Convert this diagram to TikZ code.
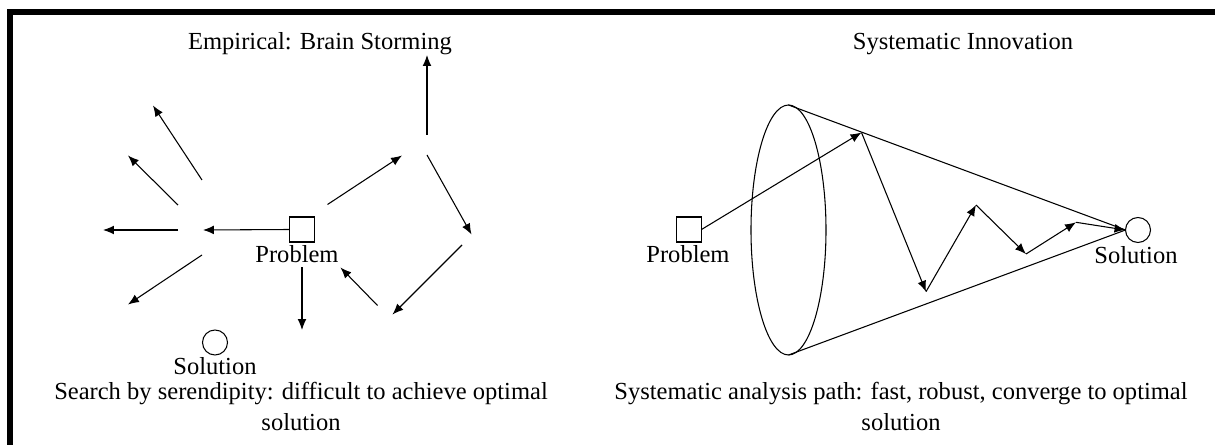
\documentclass[tikz,border=0pt]{standalone}
\usepackage{fontspec}
\setmainfont{Liberation Serif}
\usetikzlibrary{arrows.meta,shapes.geometric}
\begin{document}
\begin{tikzpicture}[x=0.75pt,y=-0.75pt,
  line width=0.8pt,
  arr/.style={-{Latex[length=8.2pt,width=6.6pt]}},
  txt/.style={inner sep=0pt,font=\fontsize{18.4}{23.25}\selectfont},
  sq/.style={draw,rectangle,minimum size=18.75pt,inner sep=0pt,outer sep=0pt},
  ci/.style={draw,circle,minimum size=18.75pt,inner sep=0pt,outer sep=0pt},
  cone/.style={draw,ellipse,minimum width=56.25pt,minimum height=187.5pt,inner sep=0pt,outer sep=0pt}
]
\useasboundingbox (0,0) rectangle (1215,445);
\clip (0,0) rectangle (1215,445);
% frame
\draw[line width=4.5pt] (1230,12) -- (10,12) -- (10,460);

% ---------- left panel ----------
\node[txt,anchor=base] (titleL) at (320,50) {Empirical: Brain Storming};
\node[sq] (probL) at (302,229.5) {};
\node[txt,anchor=base] (probLtxt) at (297,262.7) {Problem};
\node[ci] (solL) at (215,342.5) {};
\node[txt,anchor=base] (solLtxt) at (215,375) {Solution};
\node[txt,anchor=north,align=center] (capL) at (301,382) {Search by serendipity: difficult to achieve optimal\\solution};

\coordinate (l1) at (203,230);
\coordinate (l2) at (178,230);   \coordinate (l3) at (103,230);
\coordinate (l4) at (178,205);   \coordinate (l5) at (128,155.5);
\coordinate (l6) at (202,180);   \coordinate (l7) at (153,105.5);
\coordinate (l8) at (202,255);   \coordinate (l9) at (128,304.5);
\coordinate (l10) at (327.5,204.5); \coordinate (l11) at (402,155.5);
\coordinate (l12) at (427,135);  \coordinate (l13) at (427,55);
\coordinate (l14) at (427,155);  \coordinate (l15) at (471.5,234.5);
\coordinate (l16) at (462,245);  \coordinate (l17) at (392.5,314.5);
\coordinate (l18) at (377.5,305.5); \coordinate (l19) at (340.5,267.5);
\coordinate (l20) at (302,267.5); \coordinate (l21) at (302,330);

\draw[arr] (probL.west) -- (l1);
\draw[arr] (l2) -- (l3);
\draw[arr] (l4) -- (l5);
\draw[arr] (l6) -- (l7);
\draw[arr] (l8) -- (l9);
\draw[arr] (l10) -- (l11);
\draw[arr] (l12) -- (l13);
\draw[arr] (l14) -- (l15);
\draw[arr] (l16) -- (l17);
\draw[arr] (l18) -- (l19);
\draw[arr] (l20) -- (l21);

% ---------- right panel ----------
\node[txt,anchor=base] (titleR) at (963,50) {Systematic Innovation};
\node[sq] (probR) at (689,229.5) {};
\node[txt,anchor=base] (probRtxt) at (688,263) {Problem};
\node[ci] (solR) at (1138,230) {};
\node[txt,anchor=base] (solRtxt) at (1136,264) {Solution};
\node[cone] (cone) at (788.5,230) {};
\node[txt,anchor=north,align=center] (capR) at (901,382) {Systematic analysis path: fast, robust, converge to optimal\\solution};

\draw (cone.north) -- (solR.west);
\draw (cone.south) -- (solR.west);

\coordinate (z1) at (861.5,132.5);
\coordinate (z2) at (926,291.7);
\coordinate (z3) at (976,205);
\coordinate (z4) at (1026,254);
\coordinate (z5) at (1076,222.3);

\draw[arr] (probR.east) -- (z1);
\draw[arr] (z1) -- (z2);
\draw[arr] (z2) -- (z3);
\draw[arr] (z3) -- (z4);
\draw[arr] (z4) -- (z5);
\draw[arr] (z5) -- (solR.west);
\end{tikzpicture}
\end{document}
